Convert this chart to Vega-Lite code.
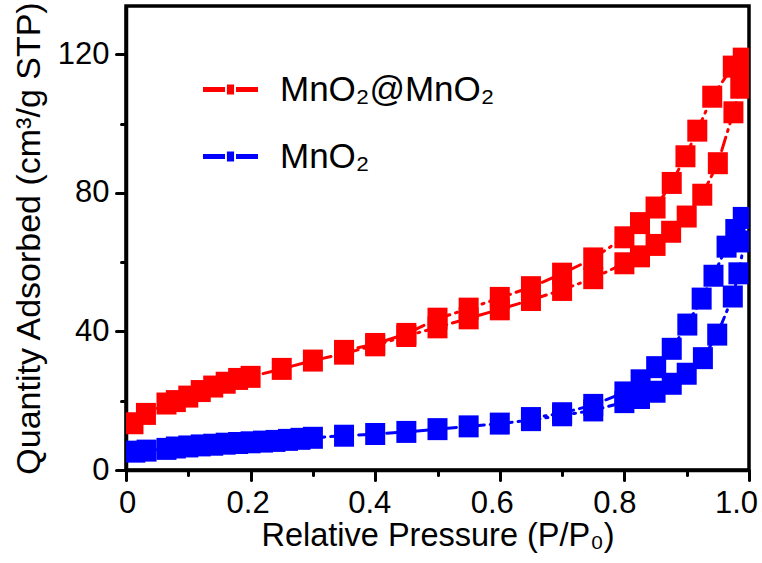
{
  "$schema": "https://vega.github.io/schema/vega-lite/v6.json",
  "width": 623,
  "height": 464,
  "autosize": {"type": "none"},
  "padding": {"left": 126, "top": 6, "right": 13, "bottom": 93},
  "background": "white",
  "config": {
    "view": {"stroke": "#000", "strokeWidth": 3.5},
    "font": "Liberation Sans",
    "axis": {
      "domainColor": "#000", "domainWidth": 3.5, "tickColor": "#000", "tickWidth": 3, "tickCap": "round",
      "labelColor": "#000", "titleColor": "#000", "labelFont": "Liberation Sans", "titleFont": "Liberation Sans",
      "labelFontSize": 31, "titleFontWeight": "normal", "grid": false
    },
    "legend": {
      "orient": "none", "legendX": 77, "legendY": 56, "padding": 0,
      "symbolType": "M-1,-0.09H-0.2V0.09H-1Z M-0.13,-0.18H0.13V0.18H-0.13Z M0.2,-0.09H1V0.09H0.2Z",
      "symbolSize": 3025, "symbolStrokeWidth": 0, "symbolOpacity": 1,
      "labelFont": "Liberation Sans", "labelFontSize": 35, "labelColor": "#000", "labelOffset": 22,
      "rowPadding": 21, "labelLimit": 400
    }
  },
  "data": {"values": [
    {"s":"MnO₂@MnO₂","i":1,"p":0.012,"q":13.5},
    {"s":"MnO₂@MnO₂","i":2,"p":0.032,"q":16.2},
    {"s":"MnO₂@MnO₂","i":3,"p":0.065,"q":19.2},
    {"s":"MnO₂@MnO₂","i":4,"p":0.08,"q":19.9},
    {"s":"MnO₂@MnO₂","i":5,"p":0.10,"q":21.2},
    {"s":"MnO₂@MnO₂","i":6,"p":0.12,"q":22.8},
    {"s":"MnO₂@MnO₂","i":7,"p":0.14,"q":24.1},
    {"s":"MnO₂@MnO₂","i":8,"p":0.16,"q":25.2},
    {"s":"MnO₂@MnO₂","i":9,"p":0.18,"q":26.3},
    {"s":"MnO₂@MnO₂","i":10,"p":0.20,"q":26.9},
    {"s":"MnO₂@MnO₂","i":11,"p":0.25,"q":29.2},
    {"s":"MnO₂@MnO₂","i":12,"p":0.30,"q":31.6},
    {"s":"MnO₂@MnO₂","i":13,"p":0.35,"q":33.6},
    {"s":"MnO₂@MnO₂","i":14,"p":0.40,"q":36.0},
    {"s":"MnO₂@MnO₂","i":15,"p":0.45,"q":38.7},
    {"s":"MnO₂@MnO₂","i":16,"p":0.50,"q":41.2},
    {"s":"MnO₂@MnO₂","i":17,"p":0.55,"q":43.8},
    {"s":"MnO₂@MnO₂","i":18,"p":0.60,"q":46.4},
    {"s":"MnO₂@MnO₂","i":19,"p":0.65,"q":49.1},
    {"s":"MnO₂@MnO₂","i":20,"p":0.70,"q":52.0},
    {"s":"MnO₂@MnO₂","i":21,"p":0.75,"q":55.4},
    {"s":"MnO₂@MnO₂","i":22,"p":0.80,"q":59.7},
    {"s":"MnO₂@MnO₂","i":23,"p":0.825,"q":61.7},
    {"s":"MnO₂@MnO₂","i":24,"p":0.85,"q":65.0},
    {"s":"MnO₂@MnO₂","i":25,"p":0.875,"q":68.8},
    {"s":"MnO₂@MnO₂","i":26,"p":0.90,"q":73.2},
    {"s":"MnO₂@MnO₂","i":27,"p":0.925,"q":79.5},
    {"s":"MnO₂@MnO₂","i":28,"p":0.95,"q":88.6},
    {"s":"MnO₂@MnO₂","i":29,"p":0.975,"q":103.3},
    {"s":"MnO₂@MnO₂","i":30,"p":0.986,"q":110.4},
    {"s":"MnO₂@MnO₂","i":31,"p":0.99,"q":114.5},
    {"s":"MnO₂@MnO₂","i":32,"p":0.99,"q":118.8},
    {"s":"MnO₂@MnO₂","i":33,"p":0.974,"q":116.5},
    {"s":"MnO₂@MnO₂","i":34,"p":0.941,"q":107.8},
    {"s":"MnO₂@MnO₂","i":35,"p":0.917,"q":98.0},
    {"s":"MnO₂@MnO₂","i":36,"p":0.898,"q":90.6},
    {"s":"MnO₂@MnO₂","i":37,"p":0.876,"q":82.9},
    {"s":"MnO₂@MnO₂","i":38,"p":0.85,"q":75.8},
    {"s":"MnO₂@MnO₂","i":39,"p":0.825,"q":71.3},
    {"s":"MnO₂@MnO₂","i":40,"p":0.80,"q":67.2},
    {"s":"MnO₂@MnO₂","i":41,"p":0.75,"q":61.1},
    {"s":"MnO₂@MnO₂","i":42,"p":0.70,"q":56.7},
    {"s":"MnO₂@MnO₂","i":43,"p":0.65,"q":52.8},
    {"s":"MnO₂@MnO₂","i":44,"p":0.60,"q":49.7},
    {"s":"MnO₂@MnO₂","i":45,"p":0.55,"q":46.6},
    {"s":"MnO₂@MnO₂","i":46,"p":0.50,"q":43.7},
    {"s":"MnO₂@MnO₂","i":47,"p":0.45,"q":39.3},
    {"s":"MnO₂@MnO₂","i":48,"p":0.40,"q":36.4},
    {"s":"MnO₂@MnO₂","i":49,"p":0.35,"q":34.4},
    {"s":"MnO₂","i":1,"p":0.015,"q":5.3},
    {"s":"MnO₂","i":2,"p":0.033,"q":5.6},
    {"s":"MnO₂","i":3,"p":0.065,"q":6.1},
    {"s":"MnO₂","i":4,"p":0.08,"q":6.5},
    {"s":"MnO₂","i":5,"p":0.10,"q":6.8},
    {"s":"MnO₂","i":6,"p":0.12,"q":7.1},
    {"s":"MnO₂","i":7,"p":0.14,"q":7.3},
    {"s":"MnO₂","i":8,"p":0.16,"q":7.6},
    {"s":"MnO₂","i":9,"p":0.18,"q":7.8},
    {"s":"MnO₂","i":10,"p":0.20,"q":8.0},
    {"s":"MnO₂","i":11,"p":0.22,"q":8.2},
    {"s":"MnO₂","i":12,"p":0.24,"q":8.4},
    {"s":"MnO₂","i":13,"p":0.26,"q":8.7},
    {"s":"MnO₂","i":14,"p":0.28,"q":9.0},
    {"s":"MnO₂","i":15,"p":0.30,"q":9.3},
    {"s":"MnO₂","i":16,"p":0.35,"q":9.9},
    {"s":"MnO₂","i":17,"p":0.40,"q":10.4},
    {"s":"MnO₂","i":18,"p":0.45,"q":11.0},
    {"s":"MnO₂","i":19,"p":0.50,"q":11.8},
    {"s":"MnO₂","i":20,"p":0.55,"q":12.6},
    {"s":"MnO₂","i":21,"p":0.60,"q":13.4},
    {"s":"MnO₂","i":22,"p":0.65,"q":14.4},
    {"s":"MnO₂","i":23,"p":0.70,"q":15.8},
    {"s":"MnO₂","i":24,"p":0.75,"q":17.2},
    {"s":"MnO₂","i":25,"p":0.80,"q":19.6},
    {"s":"MnO₂","i":26,"p":0.825,"q":20.8},
    {"s":"MnO₂","i":27,"p":0.85,"q":22.6},
    {"s":"MnO₂","i":28,"p":0.876,"q":24.9},
    {"s":"MnO₂","i":29,"p":0.90,"q":27.8},
    {"s":"MnO₂","i":30,"p":0.926,"q":32.3},
    {"s":"MnO₂","i":31,"p":0.949,"q":39.1},
    {"s":"MnO₂","i":32,"p":0.974,"q":50.1},
    {"s":"MnO₂","i":33,"p":0.983,"q":56.8},
    {"s":"MnO₂","i":34,"p":0.993,"q":66.0},
    {"s":"MnO₂","i":35,"p":0.99,"q":72.8},
    {"s":"MnO₂","i":36,"p":0.978,"q":69.3},
    {"s":"MnO₂","i":37,"p":0.964,"q":64.5},
    {"s":"MnO₂","i":38,"p":0.943,"q":56.1},
    {"s":"MnO₂","i":39,"p":0.924,"q":49.5},
    {"s":"MnO₂","i":40,"p":0.901,"q":42.0},
    {"s":"MnO₂","i":41,"p":0.876,"q":35.0},
    {"s":"MnO₂","i":42,"p":0.851,"q":29.7},
    {"s":"MnO₂","i":43,"p":0.826,"q":25.9},
    {"s":"MnO₂","i":44,"p":0.80,"q":22.4},
    {"s":"MnO₂","i":45,"p":0.75,"q":18.8},
    {"s":"MnO₂","i":46,"p":0.70,"q":16.4},
    {"s":"MnO₂","i":47,"p":0.65,"q":15.0}
  ]},
  "encoding": {
    "x": {"field": "p", "type": "quantitative",
      "scale": {"domain": [0, 1], "nice": false, "zero": false},
      "axis": {
        "title": "Relative Pressure (P/P₀)",
        "titleFontSize": 32.5,
        "values": [0, 0.1, 0.2, 0.3, 0.4, 0.5, 0.6, 0.7, 0.8, 0.9, 1.0],
        "labelExpr": "datum.value === 0 ? '0' : (round(datum.value*10) % 2 === 0 ? format(datum.value, '.1f') : '')",
        "tickSize": {"condition": {"test": "round(datum.value*10) % 2 === 0", "value": 10}, "value": 5},
        "labelOffset": {"condition": [
          {"test": "round(datum.value*10) === 2", "value": -3},
          {"test": "round(datum.value*10) === 4", "value": -6},
          {"test": "round(datum.value*10) === 6", "value": -8},
          {"test": "round(datum.value*10) === 8", "value": -10},
          {"test": "round(datum.value*10) === 10", "value": -13}
        ], "value": 1},
        "labelPadding": 8, "titlePadding": 1, "labelOverlap": false, "labelFlush": false
      }
    },
    "y": {"field": "q", "type": "quantitative",
      "scale": {"domain": [0, 134], "nice": false, "zero": true},
      "axis": {
        "title": "Quantity Adsorbed (cm³/g STP)",
        "titleFontSize": 34,
        "values": [0, 20, 40, 60, 80, 100, 120],
        "labelExpr": "datum.value % 40 === 0 ? datum.label : ''",
        "tickSize": {"condition": {"test": "datum.value % 40 === 0", "value": 10}, "value": 5},
        "labelPadding": 7, "titlePadding": 11, "labelOverlap": false, "labelFlush": false
      }
    },
    "color": {"field": "s", "type": "nominal",
      "scale": {"domain": ["MnO₂@MnO₂", "MnO₂"], "range": ["#ff0000", "#0000ff"]},
      "legend": {"title": null}
    }
  },
  "layer": [
    {
      "mark": {"type": "line", "strokeDash": [14, 6, 2, 6], "strokeWidth": 3, "strokeCap": "round", "clip": true},
      "encoding": {"order": {"field": "i", "type": "quantitative"}}
    },
    {
      "mark": {"type": "point", "filled": true, "opacity": 1, "size": 400, "shape": "M-1,-1.1H1V1.1H-1Z", "clip": true}
    }
  ]
}
